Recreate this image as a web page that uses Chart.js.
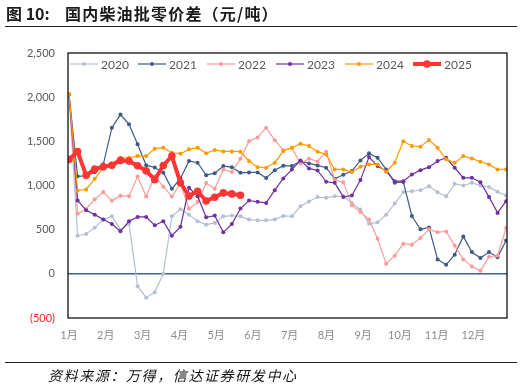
<!DOCTYPE html>
<html>
<head>
<meta charset="utf-8">
<script src="https://cdn.jsdelivr.net/npm/chart.js@4.4.1/dist/chart.umd.min.js"></script>
<style>
  html, body { margin: 0; padding: 0; background: #fff; }
  #wrap { position: relative; width: 529px; height: 387px; overflow: hidden; }
  #chart { position: absolute; left: 0; top: 0; }
  .title { position: absolute; left: 6px; top: 1px; font: bold 16px "Noto Sans CJK SC", sans-serif; color: #1b1b1b; white-space: nowrap; }
  .title .t2 { position: absolute; left: 59px; letter-spacing: 1.2px; }
  .rule { position: absolute; left: 5px; width: 512px; height: 0; border-top: 1px solid #222; }
  .source { position: absolute; left: 48px; top: 365px; font: italic 14px "Noto Sans CJK SC", sans-serif; color: #111; letter-spacing: 1.6px; white-space: nowrap; }
</style>
</head>
<body>
<div id="wrap">
  <canvas id="chart" width="529" height="387"></canvas>
  <div class="title"><span>图 10:</span><span class="t2">国内柴油批零价差（元/吨）</span></div>
  <div class="rule" style="top:26px"></div>
  <div class="rule" style="top:362px"></div>
  <div class="source">资料来源：万得，信达证券研发中心</div>
</div>
<script>
// weekly values, week index 0..51
const years = ['2020', '2021', '2022', '2023', '2024', '2025'];
const months = ['1月', '2月', '3月', '4月', '5月', '6月', '7月', '8月', '9月', '10月', '11月', '12月'];
const yTicks = [-500, 0, 500, 1000, 1500, 2000, 2500];

const d2020 = [2030, 430, 451, 523, 614, 651, 500, 568, -140, -270, -208, 0, 651, 731, 670, 595, 557, 576, 651, 659,
  651, 614, 606, 606, 614, 655, 651, 765, 818, 869, 860, 878, 878, 803, 727, 568, 583, 670, 795, 924,
  935, 947, 992, 924, 878, 1019, 1000, 1030, 1000, 984, 928, 886];
const d2021 = [2030, 1106, 1110, 1150, 1240, 1655, 1803, 1693, 1466, 1230, 1204, 1144, 962, 1080, 1277, 1258, 1117, 1140, 1220, 1208,
  1144, 1148, 1148, 1084, 1172, 1225, 1220, 1277, 1250, 1227, 1201, 1076, 1121, 1163, 1284, 1364, 1314, 1182, 1030, 1040,
  655, 504, 525, 163, 102, 216, 424, 246, 178, 246, 189, 377];
const d2022 = [2030, 680, 735, 845, 926, 826, 885, 879, 1102, 875, 1106, 987, 875, 1025, 737, 812, 1027, 962, 1182, 1152,
  1303, 1500, 1542, 1655, 1513, 1400, 1425, 1250, 1303, 1273, 1383, 1061, 1038, 777, 701, 614, 398, 114, 206, 341,
  330, 405, 504, 472, 479, 320, 163, 83, 36, 193, 206, 519];
const d2023 = [2030, 830, 720, 670, 614, 564, 481, 595, 644, 644, 549, 595, 432, 532, 974, 879, 640, 659, 470, 564,
  739, 830, 815, 803, 947, 1080, 1180, 1284, 1193, 1170, 1042, 1030, 871, 886, 1061, 1322, 1220, 1163, 1049, 1049,
  1125, 1174, 1208, 1277, 1314, 1201, 1087, 1087, 1038, 871, 690, 822];
const d2024 = [2034, 943, 955, 1076, 1201, 1250, 1314, 1314, 1333, 1333, 1417, 1428, 1371, 1360, 1409, 1428, 1364, 1402, 1386, 1386,
  1383, 1277, 1208, 1201, 1258, 1390, 1428, 1474, 1447, 1383, 1352, 1182, 1182, 1152, 1212, 1239, 1239, 1155, 1258, 1500,
  1447, 1440, 1515, 1428, 1296, 1258, 1333, 1307, 1269, 1239, 1182, 1182];
const d2025 = [1295, 1385, 1115, 1185, 1212, 1230, 1284, 1276, 1223, 1166, 1065, 1227, 1333, 1030, 880, 935, 825, 867, 916, 905, 890];

const series = [d2020, d2021, d2022, d2023, d2024, d2025];
const colors = ['#B4C0D3', '#3D5A84', '#FF9A9A', '#7030A0', '#FF9900', '#FF3535'];
const weeksPerMonth = 4.29;

const datasets = series.map((arr, k) => {
  const big = k === 5;
  return {
    label: years[k],
    data: arr.map((v, i) => ({ x: i, y: v })),
    borderColor: colors[k],
    backgroundColor: colors[k],
    borderWidth: big ? 4 : 1.2,
    pointRadius: big ? 3.8 : 2,
    pointHoverRadius: big ? 3.8 : 2,
    pointBorderWidth: 0,
    tension: 0,
    order: 5 - k
  };
});

// outline box around the plot area
const boxPlugin = {
  id: 'box',
  afterDraw(chart) {
    const a = chart.chartArea, c = chart.ctx;
    c.save();
    c.strokeStyle = '#111';
    c.lineWidth = 1.3;
    c.strokeRect(a.left, a.top, a.right - a.left, a.bottom - a.top);
    c.restore();
  }
};

// legend inside the plot, line + dot markers
const legendPlugin = {
  id: 'inLegend',
  afterDraw(chart) {
    const c = chart.ctx;
    const starts = [70, 138, 207, 276, 345, 413];
    const y = 64;
    c.save();
    c.font = '12px Lato, "Noto Sans", sans-serif';
    c.textBaseline = 'middle';
    years.forEach((name, k) => {
      const x0 = starts[k], big = k === 5;
      c.strokeStyle = colors[k];
      c.fillStyle = colors[k];
      c.lineWidth = big ? 4 : 1.2;
      c.beginPath();
      c.moveTo(x0, y);
      c.lineTo(x0 + 28, y);
      c.stroke();
      c.beginPath();
      c.arc(x0 + 14, y, big ? 3.8 : 2, 0, Math.PI * 2);
      c.fill();
      c.fillStyle = '#595959';
      c.fillText(name, x0 + 31, y + 1);
    });
    c.restore();
  }
};

new Chart(document.getElementById('chart').getContext('2d'), {
  type: 'line',
  data: { datasets: datasets },
  options: {
    responsive: false,
    animation: false,
    events: [],
    layout: { padding: { top: 53, right: 22, left: 0, bottom: 0 } },
    plugins: { legend: { display: false }, tooltip: { enabled: false } },
    scales: {
      x: {
        type: 'linear',
        min: -0.12,
        max: 51.1,
        afterFit: (s) => { s.height = 69; },
        afterBuildTicks: (s) => { s.ticks = months.map((m, i) => ({ value: i * weeksPerMonth })); },
        grid: { display: false },
        border: { display: false },
        ticks: {
          autoSkip: false,
          maxRotation: 0,
          padding: 3,
          color: '#8C8C8C',
          font: { family: 'Lato, "Noto Sans CJK SC", sans-serif', size: 11 },
          callback: (v, i) => months[i]
        }
      },
      y: {
        min: -500,
        max: 2500,
        afterFit: (s) => { s.width = 68; },
        afterBuildTicks: (s) => { s.ticks = yTicks.map(v => ({ value: v })); },
        grid: {
          drawTicks: false,
          lineWidth: 1.5,
          color: (ctx) => (ctx.tick && ctx.tick.value === 0) ? '#44608C' : 'rgba(0,0,0,0)'
        },
        border: { display: false },
        ticks: {
          padding: 13,
          font: { family: 'Lato, "Noto Sans", sans-serif', size: 11 },
          color: (ctx) => (ctx.tick && ctx.tick.value < 0) ? '#FF2020' : '#595959',
          callback: (v) => v < 0 ? '(' + Math.abs(v).toLocaleString('en-US') + ')' : v.toLocaleString('en-US')
        }
      }
    }
  },
  plugins: [boxPlugin, legendPlugin]
});
</script>
</body>
</html>
